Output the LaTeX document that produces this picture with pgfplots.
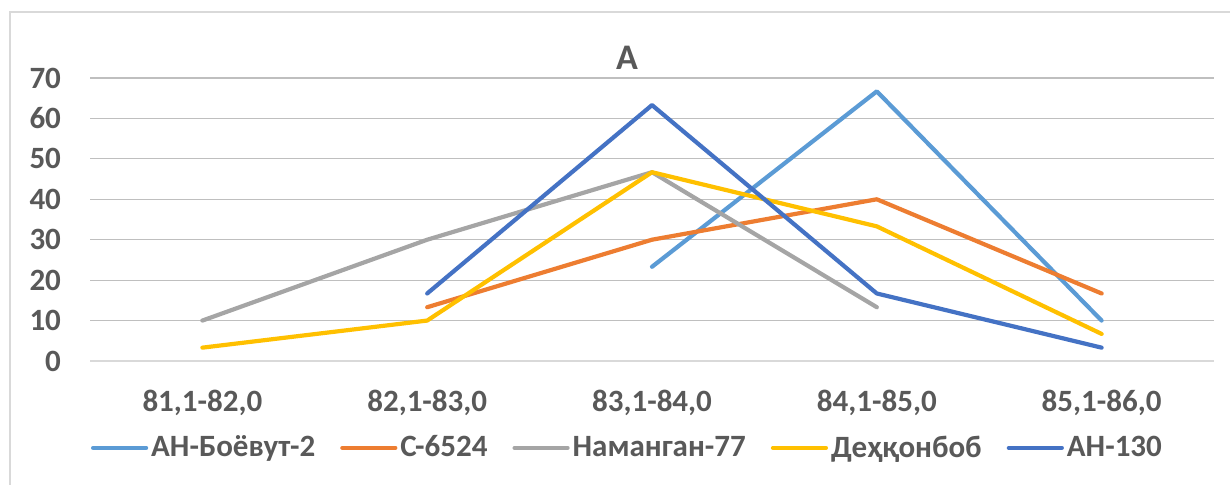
\documentclass[border=0pt]{standalone}
\usepackage{pgfplots}
\pgfplotsset{compat=1.18}
\usepackage{fontspec}
\setmainfont{Carlito}
\definecolor{c1}{HTML}{5B9BD5}
\definecolor{c2}{HTML}{ED7D31}
\definecolor{c3}{HTML}{A5A5A5}
\definecolor{c4}{HTML}{FFC000}
\definecolor{c5}{HTML}{4472C4}
\definecolor{txt}{HTML}{595959}
\definecolor{grid}{HTML}{D9D9D9}
\begin{document}
\begin{tikzpicture}
\useasboundingbox (0,0) rectangle (615pt,242.5pt);
\draw[grid, line width=0.9pt] (5pt,0) -- (5pt,236.5pt) -- (615pt,236.5pt);
\node[text=txt, font=\fontsize{18}{21}\selectfont\bfseries] at (313.5pt,213.5pt) {A};
\begin{axis}[
  at={(45pt,62pt)}, anchor=south west,
  scale only axis, width=562pt, height=141.5pt,
  xmin=-0.5, xmax=4.5, ymin=0, ymax=70,
  xtick={0,1,2,3,4},
  xticklabels={{81,1-82,0}, {82,1-83,0}, {83,1-84,0}, {84,1-85,0}, {85,1-86,0}},
  ytick={0,10,...,70},
  xmajorgrids=false, ymajorgrids=true, grid style={grid, line width=0.6pt},
  axis lines*=left,
  x axis line style={grid, line width=0.6pt, -},
  y axis line style={draw=none},
  xtick style={draw=none}, ytick style={draw=none},
  major tick length=0pt,
  tick label style={text=txt, font=\fontsize{15.5}{18}\selectfont\bfseries},
  /pgf/number format/assume math mode=true,
  yticklabel style={xshift=-11pt},
  xticklabel style={yshift=-11pt},
  every axis plot/.append style={line width=2.1pt, no markers, line join=round, line cap=round},
  legend columns=5,
  legend style={at={(0.4786,-0.307)}, anchor=center, draw=none, fill=none,
    font=\fontsize{15.5}{18}\selectfont\bfseries, text=txt,
    /tikz/every even column/.append style={column sep=11pt},
    nodes={inner sep=1.5pt}},
  legend image code/.code={\draw[#1] (0pt,0pt) -- (26.5pt,0pt);},
]
\addplot[c1] coordinates {(2,23.3) (3,66.7) (4,10)};
\addlegendentry{АН-Боёвут-2}
\addplot[c2] coordinates {(1,13.3) (2,30) (3,40) (4,16.7)};
\addlegendentry{С-6524}
\addplot[c3] coordinates {(0,10) (1,30) (2,46.7) (3,13.3)};
\addlegendentry{Наманган-77}
\addplot[c4] coordinates {(0,3.3) (1,10) (2,46.7) (3,33.3) (4,6.7)};
\addlegendentry{Деҳқонбоб}
\addplot[c5] coordinates {(1,16.7) (2,63.3) (3,16.7) (4,3.3)};
\addlegendentry{АН-130}
\end{axis}
\end{tikzpicture}
\end{document}
